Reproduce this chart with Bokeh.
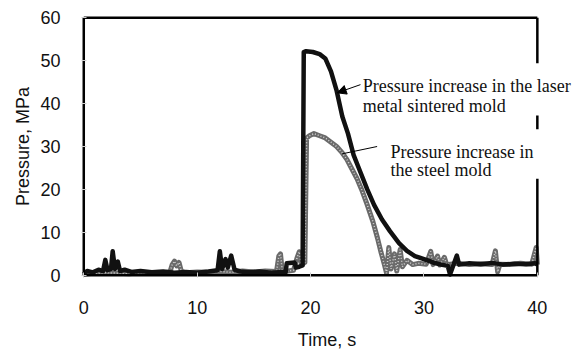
from bokeh.plotting import figure
from bokeh.models import Label, Arrow, NormalHead, FixedTicker, Range1d
from bokeh.embed import file_html
from bokeh.resources import INLINE

# Laser metal sintered mold (black)
laser_t = [0, 0.3, 0.8, 1.3, 1.7, 1.9, 2.1, 2.4, 2.55, 2.75, 3.0, 3.2, 3.6, 4.2, 5, 6, 7, 8, 9, 10, 11,
           11.8, 12.0, 12.2, 12.5, 12.7, 13.0, 13.3, 13.8, 14.5, 15.5, 16.5, 17.5, 17.8, 17.9, 18.6, 18.7,
           19.0, 19.3, 19.4, 19.6, 20.2, 20.8, 21.3, 21.8, 22.3, 22.8, 23.3, 23.8, 24.4, 25.0, 25.6, 26.3,
           27.0, 27.8, 28.5, 29.2, 30.0, 30.8, 31.5, 32.1, 32.3, 32.6, 32.9, 33.1, 34, 35, 36, 37, 38, 39,
           39.8, 40]
laser_p = [0.3, 1.0, 0.7, 1.3, 1.0, 3.6, 1.2, 1.5, 5.6, 1.5, 3.2, 1.0, 1.3, 0.8, 1.0, 0.7, 0.9, 0.6, 0.8, 0.6, 0.9,
           1.2, 5.6, 1.5, 3.8, 1.8, 4.6, 1.3, 0.9, 0.7, 0.9, 0.6, 0.8, 0.7, 2.8, 3.0, 1.8,
           2.0, 2.3, 52.0, 52.2, 52.0, 51.5, 50.5, 47.5, 43.0, 37.0, 33.0, 28.0, 24.0, 20.0, 16.4, 13.0,
           10.3, 7.5, 5.7, 4.5, 3.8, 3.0, 2.5, 2.2, 0.2, 2.4, 4.6, 2.5, 2.8, 2.6, 2.9, 2.5, 2.7, 2.6,
           2.8, 2.5]

# Steel mold (grey)
steel_t = [0, 1, 2, 3, 4, 5, 6, 7, 7.6, 7.8, 8.0, 8.2, 8.4, 8.6, 9, 10, 11, 12, 13, 14, 15, 16, 17,
           17.2, 17.35, 17.5, 18, 18.5, 18.8, 19.0, 19.2, 19.5, 19.65, 19.9, 20.3, 20.8, 21.3, 21.8, 22.3,
           22.8, 23.2, 23.6, 24.1, 24.5, 25.0, 25.5, 25.9, 26.2, 26.5, 26.7, 26.9, 27.1, 27.4, 27.6, 27.9,
           28.1, 28.5, 29, 29.5, 30.2, 30.6, 30.8, 31.2, 31.4, 31.8, 32, 33, 34, 35, 36, 36.3, 36.5, 36.7,
           37.5, 38.5, 39.5, 39.9, 40]
steel_p = [0.3, 0.5, 0.6, 0.5, 0.4, 0.6, 0.5, 0.6, 0.8, 2.5, 3.3, 2.2, 3.0, 1.0, 0.6, 0.8, 0.7, 0.9, 0.7, 1.0, 0.8, 1.0, 0.9,
           4.5, 5.0, 1.2, 1.0, 1.2, 4.0, 5.5, 2.5, 3.0, 32.0, 32.5, 33.0, 32.5, 32.0, 31.0, 30.0,
           28.5, 27.0, 25.0, 22.5, 20.0, 16.4, 12.5, 8.7, 5.5, 2.6, 0.5, 6.5, 1.5, 5.0, 1.0, 6.0,
           2.0, 3.5, 2.5, 2.8, 2.6, 5.6, 2.5, 4.5, 2.4, 4.2, 2.5, 2.8, 2.5, 2.7, 2.5, 5.7, 0.8, 2.6,
           2.5, 2.8, 2.6, 6.5, 2.5]

x_ticks = [0, 10, 20, 30, 40]
y_ticks = [0, 10, 20, 30, 40, 50, 60]

p = figure(width=574, height=352, output_backend="svg", toolbar_location=None,
           x_range=Range1d(-0.2, 43.1), y_range=Range1d(-0.5, 60.5),
           min_border_left=81, min_border_right=2, min_border_top=15, min_border_bottom=72)
p.xgrid.visible = False
p.ygrid.visible = False
p.outline_line_color = None
p.background_fill_color = "white"
p.border_fill_color = "white"

for ax in (p.xaxis[0], p.yaxis[0]):
    ax.axis_line_color = None
    ax.major_tick_in = 5
    ax.major_tick_out = 0
    ax.minor_tick_line_color = None
    ax.major_tick_line_color = "#cccccc"
    ax.major_label_text_font = "Liberation Sans"
    ax.major_label_text_font_size = "18px"
    ax.major_label_text_color = "#111111"
    ax.axis_label_text_font = "Liberation Sans"
    ax.axis_label_text_font_size = "18px"
    ax.axis_label_text_font_style = "normal"
    ax.axis_label_text_color = "#111111"

p.xaxis.ticker = FixedTicker(ticks=x_ticks)
p.yaxis.ticker = FixedTicker(ticks=y_ticks)
p.xaxis.axis_label = "Time, s"
p.yaxis.axis_label = "Pressure, MPa"
p.xaxis.major_label_standoff = 23
p.xaxis.axis_label_standoff = 13
p.yaxis.major_label_standoff = 21
p.yaxis.axis_label_standoff = 4

# steel mold: stippled grey
p.line(steel_t, steel_p, line_color="#6a6a6a", line_width=5, line_join="round")
p.line(steel_t, steel_p, line_color="white", line_width=1.5, line_dash="1 2", line_alpha=0.7)
# laser sintered mold: black
p.line(laser_t, laser_p, line_color="#111111", line_width=4.5, line_join="round")

# plot box (right edge is broken in the original)
x0, x1 = x_ticks[0], x_ticks[-1]
y0, y1 = y_ticks[0], y_ticks[-1]
p.multi_line(xs=[[x0, x0], [x0, x1], [x0, x1], [x1, x1], [x1, x1], [x1, x1]],
             ys=[[y0, y1], [y0, y0], [y1, y1], [y0, 22.5], [34.0, 37.2], [49.4, y1]],
             line_color="black", line_width=2.5)

serif = "Liberation Serif"
for txt, x, y in [("Pressure increase in the laser", 24.6, 44.2),
                  ("metal sintered mold", 24.6, 39.5),
                  ("Pressure increase in", 27.05, 28.8),
                  ("the steel mold", 27.05, 24.6)]:
    p.add_layout(Label(x=x, y=y, text=txt, text_font=serif, text_font_size="18px",
                       text_color="#111111", text_baseline="alphabetic"))

p.add_layout(Arrow(end=NormalHead(size=9, fill_color="black", line_color="black"),
                   x_start=24.4, y_start=44.4, x_end=22.35, y_end=42.5,
                   line_color="black", line_width=1))
p.add_layout(Arrow(end=None, x_start=25.87, y_start=30.0, x_end=22.8, y_end=28.3,
                   line_color="black", line_width=1))

open("out.html", "w").write(file_html(p, INLINE))
